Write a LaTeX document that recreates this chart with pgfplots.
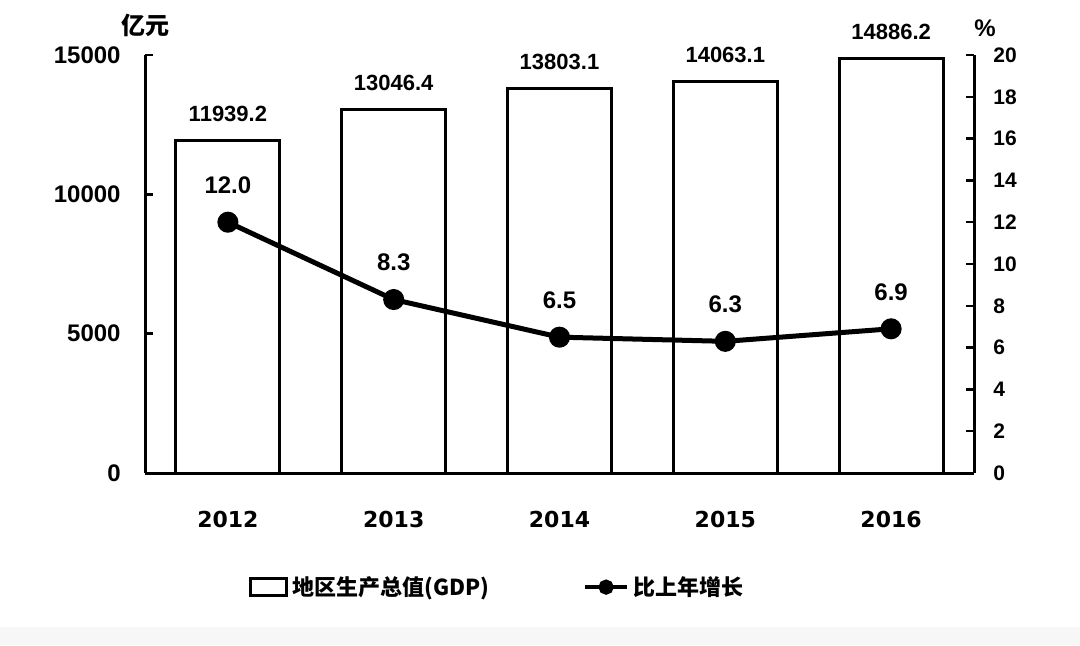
\documentclass[border=0pt]{standalone}
\usepackage{pgfplots}
\pgfplotsset{compat=1.18}
\usepackage{fontspec}
\setmainfont{Liberation Sans}
\newfontfamily\cjk{Noto Sans CJK SC}
\newfontfamily\yearfont{DejaVu Sans}

% legend glyph for the growth line: short line with one dot
\pgfplotsset{growth legend/.style={legend image code/.code={%
  \draw[mark repeat=2,mark phase=2,##1, line width=2pt, mark size=2.8pt]
    plot coordinates {(0pt,0pt)(10.5pt,0pt)(21pt,0pt)};}}}

\begin{document}
\begin{tikzpicture}
\path[use as bounding box] (0,0) rectangle (540pt,322.5pt);
\fill[black!3] (0,0) rectangle (540pt,9pt);

% GDP bars on the left axis (100 million yuan)
\begin{axis}[
  at={(72.5pt,86pt)}, anchor=south west, scale only axis,
  width=414.5pt, height=209pt,
  xmin=-0.5, xmax=4.5, ymin=0, ymax=15000,
  axis y line*=left, axis x line*=bottom,
  axis line style={line width=1.5pt, -},
  ybar, bar width=52pt,
  xtick={0,1,2,3,4}, xticklabels={2012,2013,2014,2015,2016},
  x tick style={draw=none},
  extra x ticks={0.5,1.5,2.5,3.5}, extra x tick labels={},
  extra x tick style={tick style={draw=black, line width=1.2pt}, major tick length=4pt},
  ytick={0,5000,10000,15000}, scaled y ticks=false,
  y tick style={line width=1.2pt, black}, major tick length=4pt,
  /pgf/number format/1000 sep={},
  /pgf/number format/assume math mode=true,
  xticklabel style={font=\yearfont\bfseries\fontsize{11}{11}\selectfont, inner sep=0pt, yshift=-15pt},
  yticklabel style={font=\bfseries\fontsize{12}{12}\selectfont, inner sep=0pt, xshift=-12pt},
  nodes near coords={\pgfmathprintnumber[fixed,fixed zerofill,precision=1,1000 sep={}]{\pgfplotspointmeta}},
  every node near coord/.append style={font=\bfseries\fontsize{11}{11}\selectfont, inner sep=0pt, anchor=south, yshift=8.5pt},
  clip=false,
]
\addplot[draw=black, fill=white, line width=1.5pt]
  coordinates {(0,11939.2) (1,13046.4) (2,13803.1) (3,14063.1) (4,14886.2)};
\node[font=\cjk\bfseries\fontsize{12}{12}\selectfont, anchor=south, inner sep=0pt, yshift=9pt] at (rel axis cs:0,1) {亿元};
\end{axis}

% growth rate on the right axis (%)
\begin{axis}[
  at={(72.5pt,86pt)}, anchor=south west, scale only axis,
  width=414.5pt, height=209pt,
  xmin=-0.5, xmax=4.5, ymin=0, ymax=20,
  axis y line*=right, axis x line=none,
  axis line style={line width=1.5pt, -},
  ytick={0,2,...,20},
  y tick style={line width=1.2pt, black}, major tick length=4pt,
  /pgf/number format/assume math mode=true,
  yticklabel style={font=\bfseries\fontsize{10.5}{10.5}\selectfont, inner sep=0pt, xshift=9.5pt},
  nodes near coords={\pgfmathprintnumber[fixed,fixed zerofill,precision=1]{\pgfplotspointmeta}},
  every node near coord/.append style={font=\bfseries\fontsize{12}{12}\selectfont, inner sep=0pt, anchor=south, yshift=13pt},
  clip=false,
  legend columns=2,
  legend style={at={(0.426,-0.273)}, anchor=center, draw=none, fill=none,
    font=\cjk\bfseries\fontsize{11}{13}\selectfont,
    /tikz/every even column/.append style={column sep=45pt}},
]
\addlegendimage{legend image code/.code={\draw[black, line width=1.5pt, fill=white] (0pt,-4pt) rectangle (18pt,4.5pt);}}
\addlegendentry{地区生产总值(GDP)}
\addplot[black, line width=2.5pt, mark=*, mark size=4pt, growth legend]
  coordinates {(0,12.0) (1,8.3) (2,6.5) (3,6.3) (4,6.9)};
\addlegendentry{比上年增长}
\node[font=\bfseries\fontsize{12}{12}\selectfont, anchor=south, inner sep=0pt, xshift=5.5pt, yshift=9pt] at (rel axis cs:1,1) {\%};
\end{axis}
\end{tikzpicture}
\end{document}
